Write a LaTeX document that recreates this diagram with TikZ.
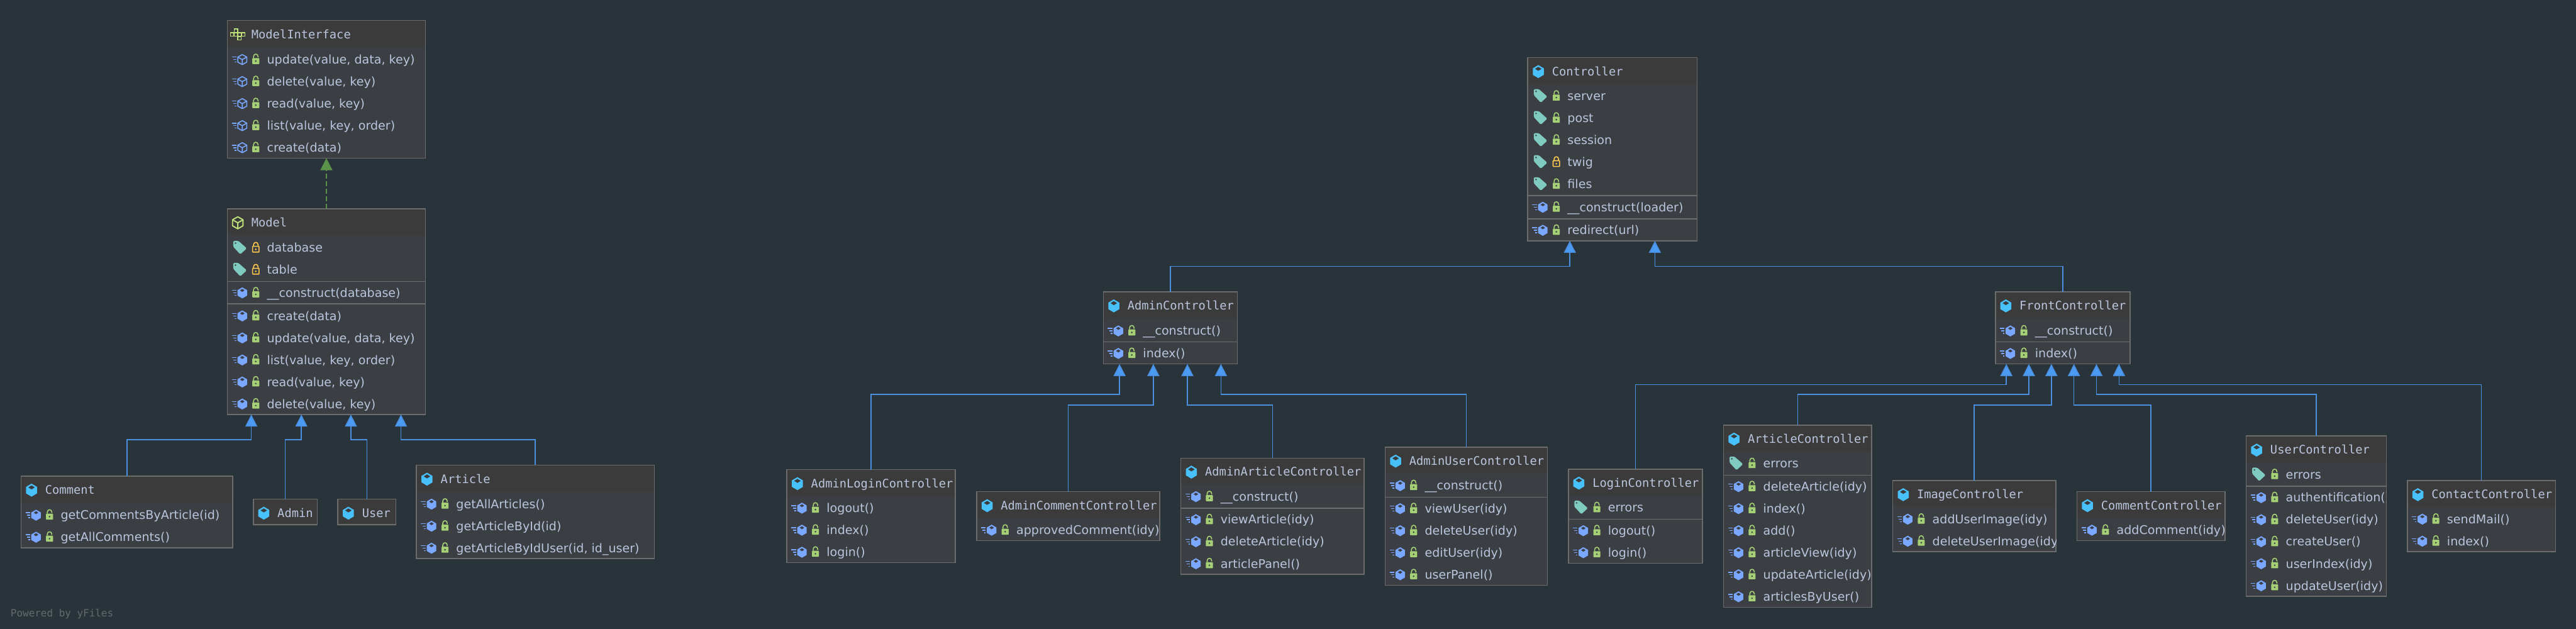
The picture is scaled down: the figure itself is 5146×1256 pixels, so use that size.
\documentclass[tikz,border=0pt]{standalone}
\usepackage{fontspec}
\setmainfont{DejaVu Sans}
\newfontfamily\titlefont{DejaVu Sans Mono}
\usetikzlibrary{arrows.meta,calc}
\definecolor{DiagramBack}{HTML}{29333A}
\definecolor{HeaderFill}{HTML}{3C3B3B}
\definecolor{BodyFill}{HTML}{3B3F43}
\definecolor{BoxBorder}{HTML}{6C6C6C}
\definecolor{EdgeBlue}{HTML}{4A8FE0}
\definecolor{TipBlue}{HTML}{4C9BF3}
\definecolor{EdgeGreen}{HTML}{5A9249}
\definecolor{LabelInk}{HTML}{BAC6DE}
\definecolor{ClassCyan}{HTML}{48C0FA}
\definecolor{MethodBlue}{HTML}{7AA7FF}
\definecolor{LockGreen}{HTML}{A5D075}
\definecolor{LockYellow}{HTML}{FFC94F}
\definecolor{TagTeal}{HTML}{7FCBBF}
\definecolor{InterfaceLime}{HTML}{BFE17A}
\definecolor{FooterGray}{HTML}{666A6C}

% one unit of the picture is one pixel of the diagram
\def\px{0.02cm}

\tikzset{
  classbox/.style={fill=BodyFill,inner sep=0pt,outer sep=0pt},
  boxline/.style={draw=BoxBorder,line width=2*\px},
  titletext/.style={anchor=base west,inner sep=0pt,text=LabelInk,font=\titlefont\fontsize{13.4pt}{16pt}\selectfont},
  membertext/.style={anchor=base west,inner sep=0pt,text=LabelInk,font=\fontsize{13.65pt}{17pt}\selectfont},
  inherit/.style={draw=EdgeBlue,line width=2*\px,-{Triangle[length=24*\px,width=24*\px,fill=TipBlue]}},
  realize/.style={draw=EdgeGreen,line width=2*\px,dash pattern=on 10*\px off 5*\px,-{Triangle[length=24*\px,width=24*\px]}},
  % title icons
  classicon/.pic={
    \fill[ClassCyan,line join=round] (0,-13) -- (11,-6.5) -- (11,6.5) -- (0,13) -- (-11,6.5) -- (-11,-6.5) -- cycle;
    \fill[HeaderFill] (0,-9.5) -- (6.5,-5.5) -- (0,-1.5) -- (-6.5,-5.5) -- cycle;
  },
  abstracticon/.pic={
    \draw[InterfaceLime,line width=2.4*\px,line join=round] (0,-12) -- (10.5,-6) -- (10.5,6) -- (0,12) -- (-10.5,6) -- (-10.5,-6) -- cycle;
    \draw[InterfaceLime,line width=2.4*\px] (-10.5,-6) -- (0,0) -- (10.5,-6) (0,0) -- (0,12);
  },
  interfaceicon/.pic={
    \foreach \cx/\cy in {-3.5/-7.5,-11/0,-3.5/0,3.5/0,11/0,3.5/7.5}
      \draw[InterfaceLime,line width=2*\px] (\cx-3.5,\cy-3.5) rectangle (\cx+3.5,\cy+3.5);
  },
  % member icons
  fieldicon/.pic={
    \fill[TagTeal,rounded corners=2*\px] (-13,-14) -- (-3,-14) -- (14,1) -- (1,13) -- (-13,-2) -- cycle;
    \fill[BodyFill] (-8.5,-9.5) circle[radius=1.7];
  },
  methodicon/.pic={
    \draw[MethodBlue,line width=1.8*\px] (-21,-5) -- (-12,-5) (-18,0) -- (-12,0) (-15,5) -- (-12,5);
    \fill[MethodBlue] (0,-11) -- (9.5,-5.5) -- (9.5,5.5) -- (0,11) -- (-9.5,5.5) -- (-9.5,-5.5) -- cycle;
    \fill[BodyFill] (0,-8) -- (4.5,-5) -- (0,-2) -- (-4.5,-5) -- cycle;
  },
  abstractmethodicon/.pic={
    \draw[MethodBlue,line width=1.8*\px] (-21,-5) -- (-12,-5) (-18,0) -- (-12,0) (-15,5) -- (-12,5);
    \draw[MethodBlue,line width=2*\px,line join=round] (0,-10) -- (9,-5) -- (9,5) -- (0,10) -- (-9,5) -- (-9,-5) -- cycle;
    \draw[MethodBlue,line width=2*\px] (-9,-5) -- (0,0) -- (9,-5) (0,0) -- (0,10);
  },
  greenlock/.pic={
    \draw[LockGreen,line width=2*\px] (-4.5,-3) -- (-4.5,-6) .. controls (-4.5,-12.5) and (4.5,-12.5) .. (4.5,-6) -- (4.5,-4.5);
    \fill[LockGreen,rounded corners=1*\px] (-7,-3) rectangle (7,9);
    \fill[BodyFill] (0,3) circle[radius=1.8];
  },
  yellowlock/.pic={
    \draw[LockYellow,line width=2*\px] (-4.5,-3) -- (-4.5,-6) .. controls (-4.5,-12.5) and (4.5,-12.5) .. (4.5,-6) -- (4.5,-3);
    \draw[LockYellow,line width=2*\px,rounded corners=1*\px] (-6.5,-3) rectangle (6.5,8.5);
    \fill[LockYellow] (0,3) circle[radius=1.8];
  },
}

% name, left, top, right, bottom, title icon, title
\newcommand{\classnode}[7]{
  \node[classbox,minimum width={(#4-#2)*\px},minimum height={(#5-#3)*\px}]
    (#1) at ({(#2+#4)/2},{(#3+#5)/2}) {};
  \fill[HeaderFill] (#1.north west) rectangle ($(#1.north east)+(0,53)$);
  \draw[boxline] (#1.north west) rectangle (#1.south east);
  \pic at ($(#1.north west)+(21,28)$) {#6};
  \node[titletext] (#1Title) at ($(#1.north west)+(48,36)$) {#7};
}

% class name, offset of the first row below the top, rows as icon/lock/text
\newcommand{\memberrows}[3]{
  \begin{scope}
    \clip (#1.north west) rectangle (#1.south east);
    \foreach \rowicon/\rowlock/\rowtext [count=\i from 0] in {#3} {
      \pic at ($(#1.north west)+(\ifnum\pdfstrcmp{\rowicon}{fieldicon}=0 25\else 30\fi,#2-1+44*\i)$) {\rowicon};
      \pic at ($(#1.north west)+(57,#2-1+44*\i)$) {\rowlock};
      \node[membertext] (#1Row#2x\i) at ($(#1.north west)+(79,#2+7.5+44*\i)$) {\rowtext};
    }
  \end{scope}
}

% class name, offset of the rule below the top
\newcommand{\seprule}[2]{
  \draw[boxline] ($(#1.north west)+(0,#2)$) -- ($(#1.north east)+(0,#2)$);
}

\begin{document}
\begin{tikzpicture}[x=\px,y=-\px]

\fill[DiagramBack] (0,0) rectangle (5146,1256);
\useasboundingbox (0,0) rectangle (5146,1256);

% ---- MODEL SIDE ----
\classnode{ModelInterface}{454}{41}{850}{316}{interfaceicon}{ModelInterface}
\memberrows{ModelInterface}{79}{abstractmethodicon/greenlock/{update(value, data, key)},
  abstractmethodicon/greenlock/{delete(value, key)},
  abstractmethodicon/greenlock/{read(value, key)},
  abstractmethodicon/greenlock/{list(value, key, order)},
  abstractmethodicon/greenlock/{create(data)}}

\classnode{Model}{454}{417}{850}{828}{abstracticon}{Model}
\memberrows{Model}{79}{fieldicon/yellowlock/database, fieldicon/yellowlock/table}
\seprule{Model}{145}
\memberrows{Model}{169}{methodicon/greenlock/{\_\_construct(database)}}
\seprule{Model}{190}
\memberrows{Model}{215}{methodicon/greenlock/{create(data)},
  methodicon/greenlock/{update(value, data, key)},
  methodicon/greenlock/{list(value, key, order)},
  methodicon/greenlock/{read(value, key)},
  methodicon/greenlock/{delete(value, key)}}

\classnode{Comment}{42}{951}{465}{1094}{classicon}{Comment}
\memberrows{Comment}{79}{methodicon/greenlock/{getCommentsByArticle(id)},
  methodicon/greenlock/{getAllComments()}}

\classnode{Admin}{506}{997}{634}{1048}{classicon}{Admin}
\classnode{User}{675}{997}{791}{1048}{classicon}{User}

\classnode{Article}{832}{929}{1307}{1116}{classicon}{Article}
\memberrows{Article}{79}{methodicon/greenlock/{getAllArticles()},
  methodicon/greenlock/{getArticleById(id)},
  methodicon/greenlock/{getArticleByIdUser(id, id\_user)}}

% Model edges
\draw[realize] (Model.north) -- (ModelInterface.south);
\draw[inherit] (Comment.north) -- ++(0,-73) -| ($(Model.south west)+(48,0)$);
\draw[inherit] (Admin.north) -- ++(0,-119) -| ($(Model.south west)+(148,0)$);
\draw[inherit] (User.north) -- ++(0,-119) -| ($(Model.south west)+(247,0)$);
\draw[inherit] (Article.north) -- ++(0,-51) -| ($(Model.south west)+(347,0)$);

% ---- CONTROLLER SIDE ----
\classnode{Controller}{3052}{115}{3390}{481}{classicon}{Controller}
\memberrows{Controller}{78}{fieldicon/greenlock/server, fieldicon/greenlock/post,
  fieldicon/greenlock/session, fieldicon/yellowlock/twig, fieldicon/greenlock/files}
\seprule{Controller}{276}
\memberrows{Controller}{300}{methodicon/greenlock/{\_\_construct(loader)}}
\seprule{Controller}{322}
\memberrows{Controller}{346}{methodicon/greenlock/{redirect(url)}}

\classnode{AdminController}{2204}{583}{2472}{727}{classicon}{AdminController}
\memberrows{AdminController}{79}{methodicon/greenlock/{\_\_construct()}}
\seprule{AdminController}{100}
\memberrows{AdminController}{124}{methodicon/greenlock/{index()}}

\classnode{FrontController}{3986}{583}{4255}{727}{classicon}{FrontController}
\memberrows{FrontController}{79}{methodicon/greenlock/{\_\_construct()}}
\seprule{FrontController}{100}
\memberrows{FrontController}{124}{methodicon/greenlock/{index()}}

% Admin controllers
\classnode{AdminLoginController}{1572}{938}{1908}{1124}{classicon}{AdminLoginController}
\memberrows{AdminLoginController}{78}{methodicon/greenlock/{logout()},
  methodicon/greenlock/{index()}, methodicon/greenlock/{login()}}

\classnode{AdminCommentController}{1951}{982}{2317}{1080}{classicon}{AdminCommentController}
\memberrows{AdminCommentController}{78}{methodicon/greenlock/{approvedComment(idy)}}

\classnode{AdminArticleController}{2359}{915}{2725}{1147}{classicon}{AdminArticleController}
\memberrows{AdminArticleController}{78}{methodicon/greenlock/{\_\_construct()}}
\seprule{AdminArticleController}{100}
\memberrows{AdminArticleController}{124}{methodicon/greenlock/{viewArticle(idy)},
  methodicon/greenlock/{deleteArticle(idy)}, methodicon/greenlock/{articlePanel()}}

\classnode{AdminUserController}{2767}{893}{3091}{1169}{classicon}{AdminUserController}
\memberrows{AdminUserController}{78}{methodicon/greenlock/{\_\_construct()}}
\seprule{AdminUserController}{100}
\memberrows{AdminUserController}{124}{methodicon/greenlock/{viewUser(idy)},
  methodicon/greenlock/{deleteUser(idy)}, methodicon/greenlock/{editUser(idy)},
  methodicon/greenlock/{userPanel()}}

% Front controllers
\classnode{LoginController}{3133}{937}{3401}{1125}{classicon}{LoginController}
\memberrows{LoginController}{78}{fieldicon/greenlock/errors}
\seprule{LoginController}{100}
\memberrows{LoginController}{124}{methodicon/greenlock/{logout()}, methodicon/greenlock/{login()}}

\classnode{ArticleController}{3443}{849}{3739}{1213}{classicon}{ArticleController}
\memberrows{ArticleController}{78}{fieldicon/greenlock/errors}
\seprule{ArticleController}{100}
\memberrows{ArticleController}{124}{methodicon/greenlock/{deleteArticle(idy)},
  methodicon/greenlock/{index()}, methodicon/greenlock/{add()},
  methodicon/greenlock/{articleView(idy)}, methodicon/greenlock/{updateArticle(idy)},
  methodicon/greenlock/{articlesByUser()}}

\classnode{ImageController}{3781}{960}{4107}{1102}{classicon}{ImageController}
\memberrows{ImageController}{78}{methodicon/greenlock/{addUserImage(idy)},
  methodicon/greenlock/{deleteUserImage(idy)}}

\classnode{CommentController}{4149}{982}{4445}{1080}{classicon}{CommentController}
\memberrows{CommentController}{78}{methodicon/greenlock/{addComment(idy)}}

\classnode{UserController}{4487}{871}{4767}{1191}{classicon}{UserController}
\memberrows{UserController}{78}{fieldicon/greenlock/errors}
\seprule{UserController}{100}
\memberrows{UserController}{124}{methodicon/greenlock/{authentification()},
  methodicon/greenlock/{deleteUser(idy)}, methodicon/greenlock/{createUser()},
  methodicon/greenlock/{userIndex(idy)}, methodicon/greenlock/{updateUser(idy)}}

\classnode{ContactController}{4809}{960}{5105}{1102}{classicon}{ContactController}
\memberrows{ContactController}{78}{methodicon/greenlock/{sendMail()}, methodicon/greenlock/{index()}}

% Controller edges
\draw[inherit] (AdminController.north) -- ++(0,-51) -| ($(Controller.south west)+(84,0)$);
\draw[inherit] (FrontController.north) -- ++(0,-51) -| ($(Controller.south west)+(254,0)$);

\draw[inherit] (AdminLoginController.north) -- ++(0,-150) -| ($(AdminController.south west)+(32.5,0)$);
\draw[inherit] (AdminCommentController.north) -- ++(0,-173) -| ($(AdminController.south west)+(100,0)$);
\draw[inherit] (AdminArticleController.north) -- ++(0,-106) -| ($(AdminController.south west)+(168,0)$);
\draw[inherit] (AdminUserController.north) -- ++(0,-105) -| ($(AdminController.south west)+(235,0)$);

\draw[inherit] (LoginController.north) -- ++(0,-169) -| ($(FrontController.south west)+(22,0)$);
\draw[inherit] (ArticleController.north) -- ++(0,-61) -| ($(FrontController.south west)+(67,0)$);
\draw[inherit] (ImageController.north) -- ++(0,-151) -| ($(FrontController.south west)+(112,0)$);
\draw[inherit] (CommentController.north) -- ++(0,-173) -| ($(FrontController.south west)+(157,0)$);
\draw[inherit] (UserController.north) -- ++(0,-83) -| ($(FrontController.south west)+(202,0)$);
\draw[inherit] (ContactController.north) -- ++(0,-192) -| ($(FrontController.south west)+(247,0)$);

% Footer
\node[anchor=base west,inner sep=0pt,text=FooterGray,font=\titlefont\fontsize{11.4pt}{14pt}\selectfont] (PoweredBy) at (21,1232) {Powered by yFiles};

\end{tikzpicture}
\end{document}
